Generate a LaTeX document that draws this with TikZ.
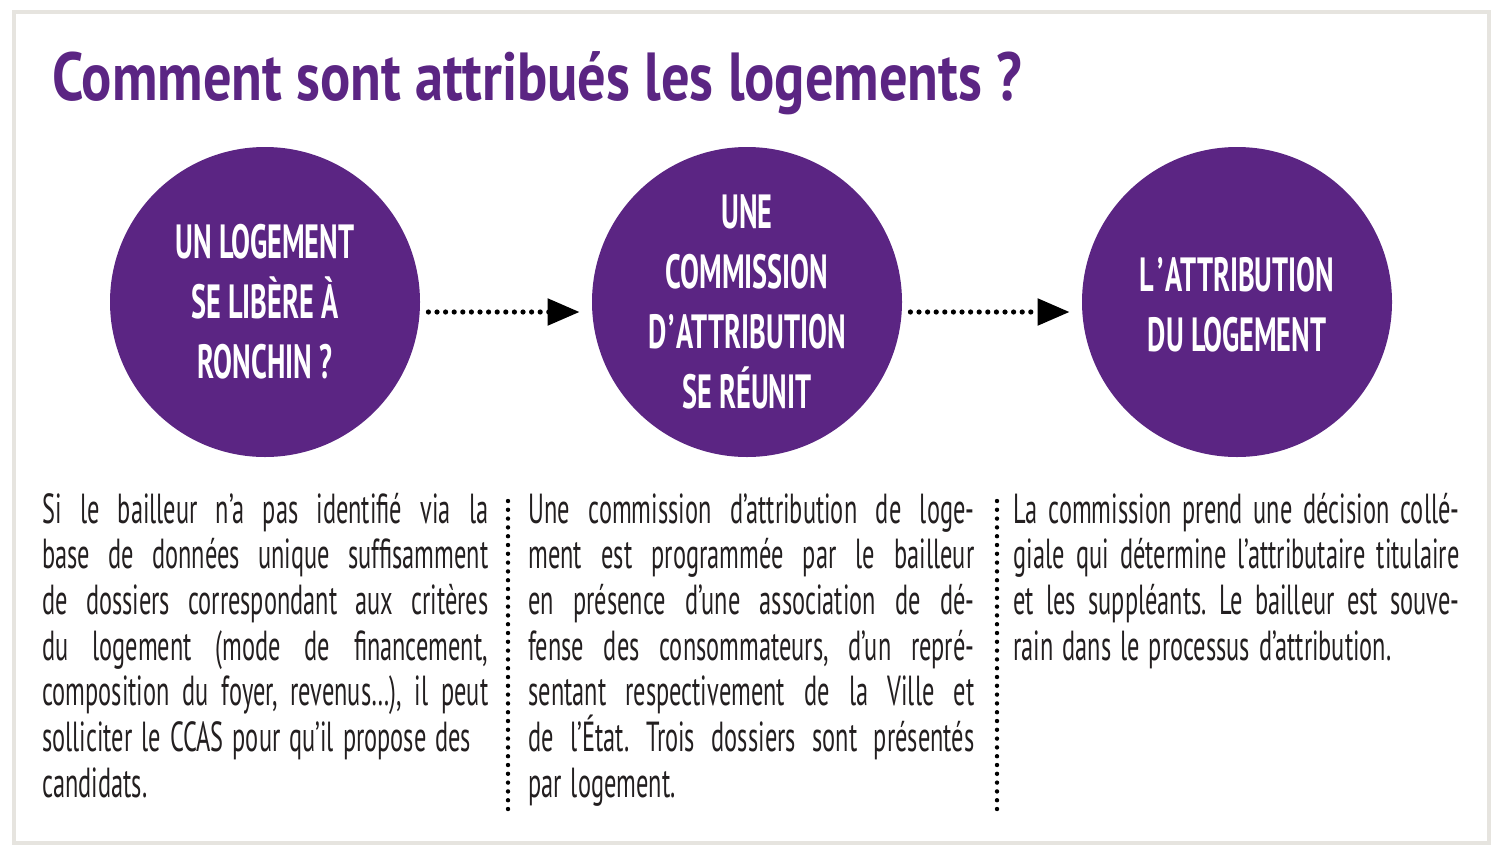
\documentclass[tikz,border=0pt]{standalone}
\usepackage{fontspec}
\setmainfont{PT Sans}
\newfontfamily\bodyfont[FakeStretch=0.58]{PT Sans}
\newfontfamily\headfont[FakeStretch=0.83]{PT Sans}
\newfontfamily\stagefont[FakeStretch=0.59]{PT Sans}
\usetikzlibrary{arrows.meta,calc}
\definecolor{cpurple}{HTML}{5B2583}
\definecolor{cframe}{HTML}{E6E4DF}
\definecolor{ctext}{HTML}{231F20}
\newlength\colw
\setlength\colw{223pt}
\newcommand\jline[1]{\makebox[\colw][s]{#1}}
\newcommand\bodyspace{\frenchspacing\spaceskip=4.5pt plus 20pt minus 1pt\relax}

\begin{document}
\begin{tikzpicture}[x=0.5pt, y=-0.5pt,
    stage/.style={circle, fill=cpurple, minimum size=155pt, inner sep=0pt, text=white,
                  align=center, font=\stagefont\bfseries\fontsize{24}{30}\selectfont},
    flow/.style={line width=2.6pt, line cap=round, dash pattern=on 0pt off 4.3pt,
                 -{Triangle[length=16pt,width=13pt]}},
    sep/.style={line width=2.2pt, line cap=round, dash pattern=on 0pt off 4.4pt},
    body/.style={text=ctext, text width=\colw, inner sep=0pt,
                 font=\bodyfont\fontsize{21}{22.85}\selectfont, execute at begin node=\bodyspace},
    title/.style={text=cpurple, inner sep=0pt, font=\headfont\bfseries\fontsize{34}{40}\selectfont}]
  \useasboundingbox[fill=white] (0,0) rectangle (1503,862);
  \draw[cframe, line width=2pt] (14,12) rectangle (1489,843);
  % title
  \node[title, anchor=base west] (head) at (52,100) {Comment sont attribués les logements ?};
  % the three stages
  \node[stage] (c1) at (265,302) {UN LOGEMENT\\SE LIBÈRE À\\RONCHIN ?};
  \node[stage] (c2) at (747,302) {UNE\\COMMISSION\\D\kern1pt’\kern1pt ATTRIBUTION\\SE RÉUNIT};
  \node[stage, text depth=0pt] (c3) at (1237,302) {\raisebox{-2.5pt}{L\kern1.5pt’\kern1pt ATTRIBUTION}\\\raisebox{-2.5pt}{DU LOGEMENT}};
  \draw[flow] ([xshift=4pt,yshift=-5pt]c1.east) -- ([xshift=-6pt,yshift=-5pt]c2.west);
  \draw[flow] ([xshift=4pt,yshift=-5pt]c2.east) -- ([xshift=-6pt,yshift=-5pt]c3.west);
  % column separators
  \coordinate (s1a) at (508,501);
  \coordinate (s1b) at (508,810);
  \coordinate (s2a) at (997,501);
  \coordinate (s2b) at (997,810);
  \draw[sep] (s1a) -- (s1b);
  \draw[sep] (s2a) -- (s2b);
  % explanations
  \node[body, anchor=base west] (t1) at (42,523) {%
    \jline{Si le bailleur n’a pas identifié via la}\\
    \jline{base de données unique suffisamment}\\
    \jline{de dossiers correspondant aux critères}\\
    \jline{du logement (mode de financement,}\\
    \jline{composition du foyer, revenus…), il peut}\\
    solliciter le CCAS pour qu’il propose des\\
    candidats.};
  \node[body, anchor=base west] (t2) at (528,523) {%
    \jline{Une commission d’attribution de loge-}\\
    \jline{ment est programmée par le bailleur}\\
    \jline{en présence d’une association de dé-}\\
    \jline{fense des consommateurs, d’un repré-}\\
    \jline{sentant respectivement de la Ville et}\\
    \jline{de l’État. Trois dossiers sont présentés}\\
    par logement.};
  \node[body, anchor=base west] (t3) at (1013,523) {%
    \jline{La commission prend une décision collé-}\\
    \jline{giale qui détermine l’attributaire titulaire}\\
    \jline{et les suppléants. Le bailleur est souve-}\\
    rain dans le processus d’attribution.};
\end{tikzpicture}
\end{document}
